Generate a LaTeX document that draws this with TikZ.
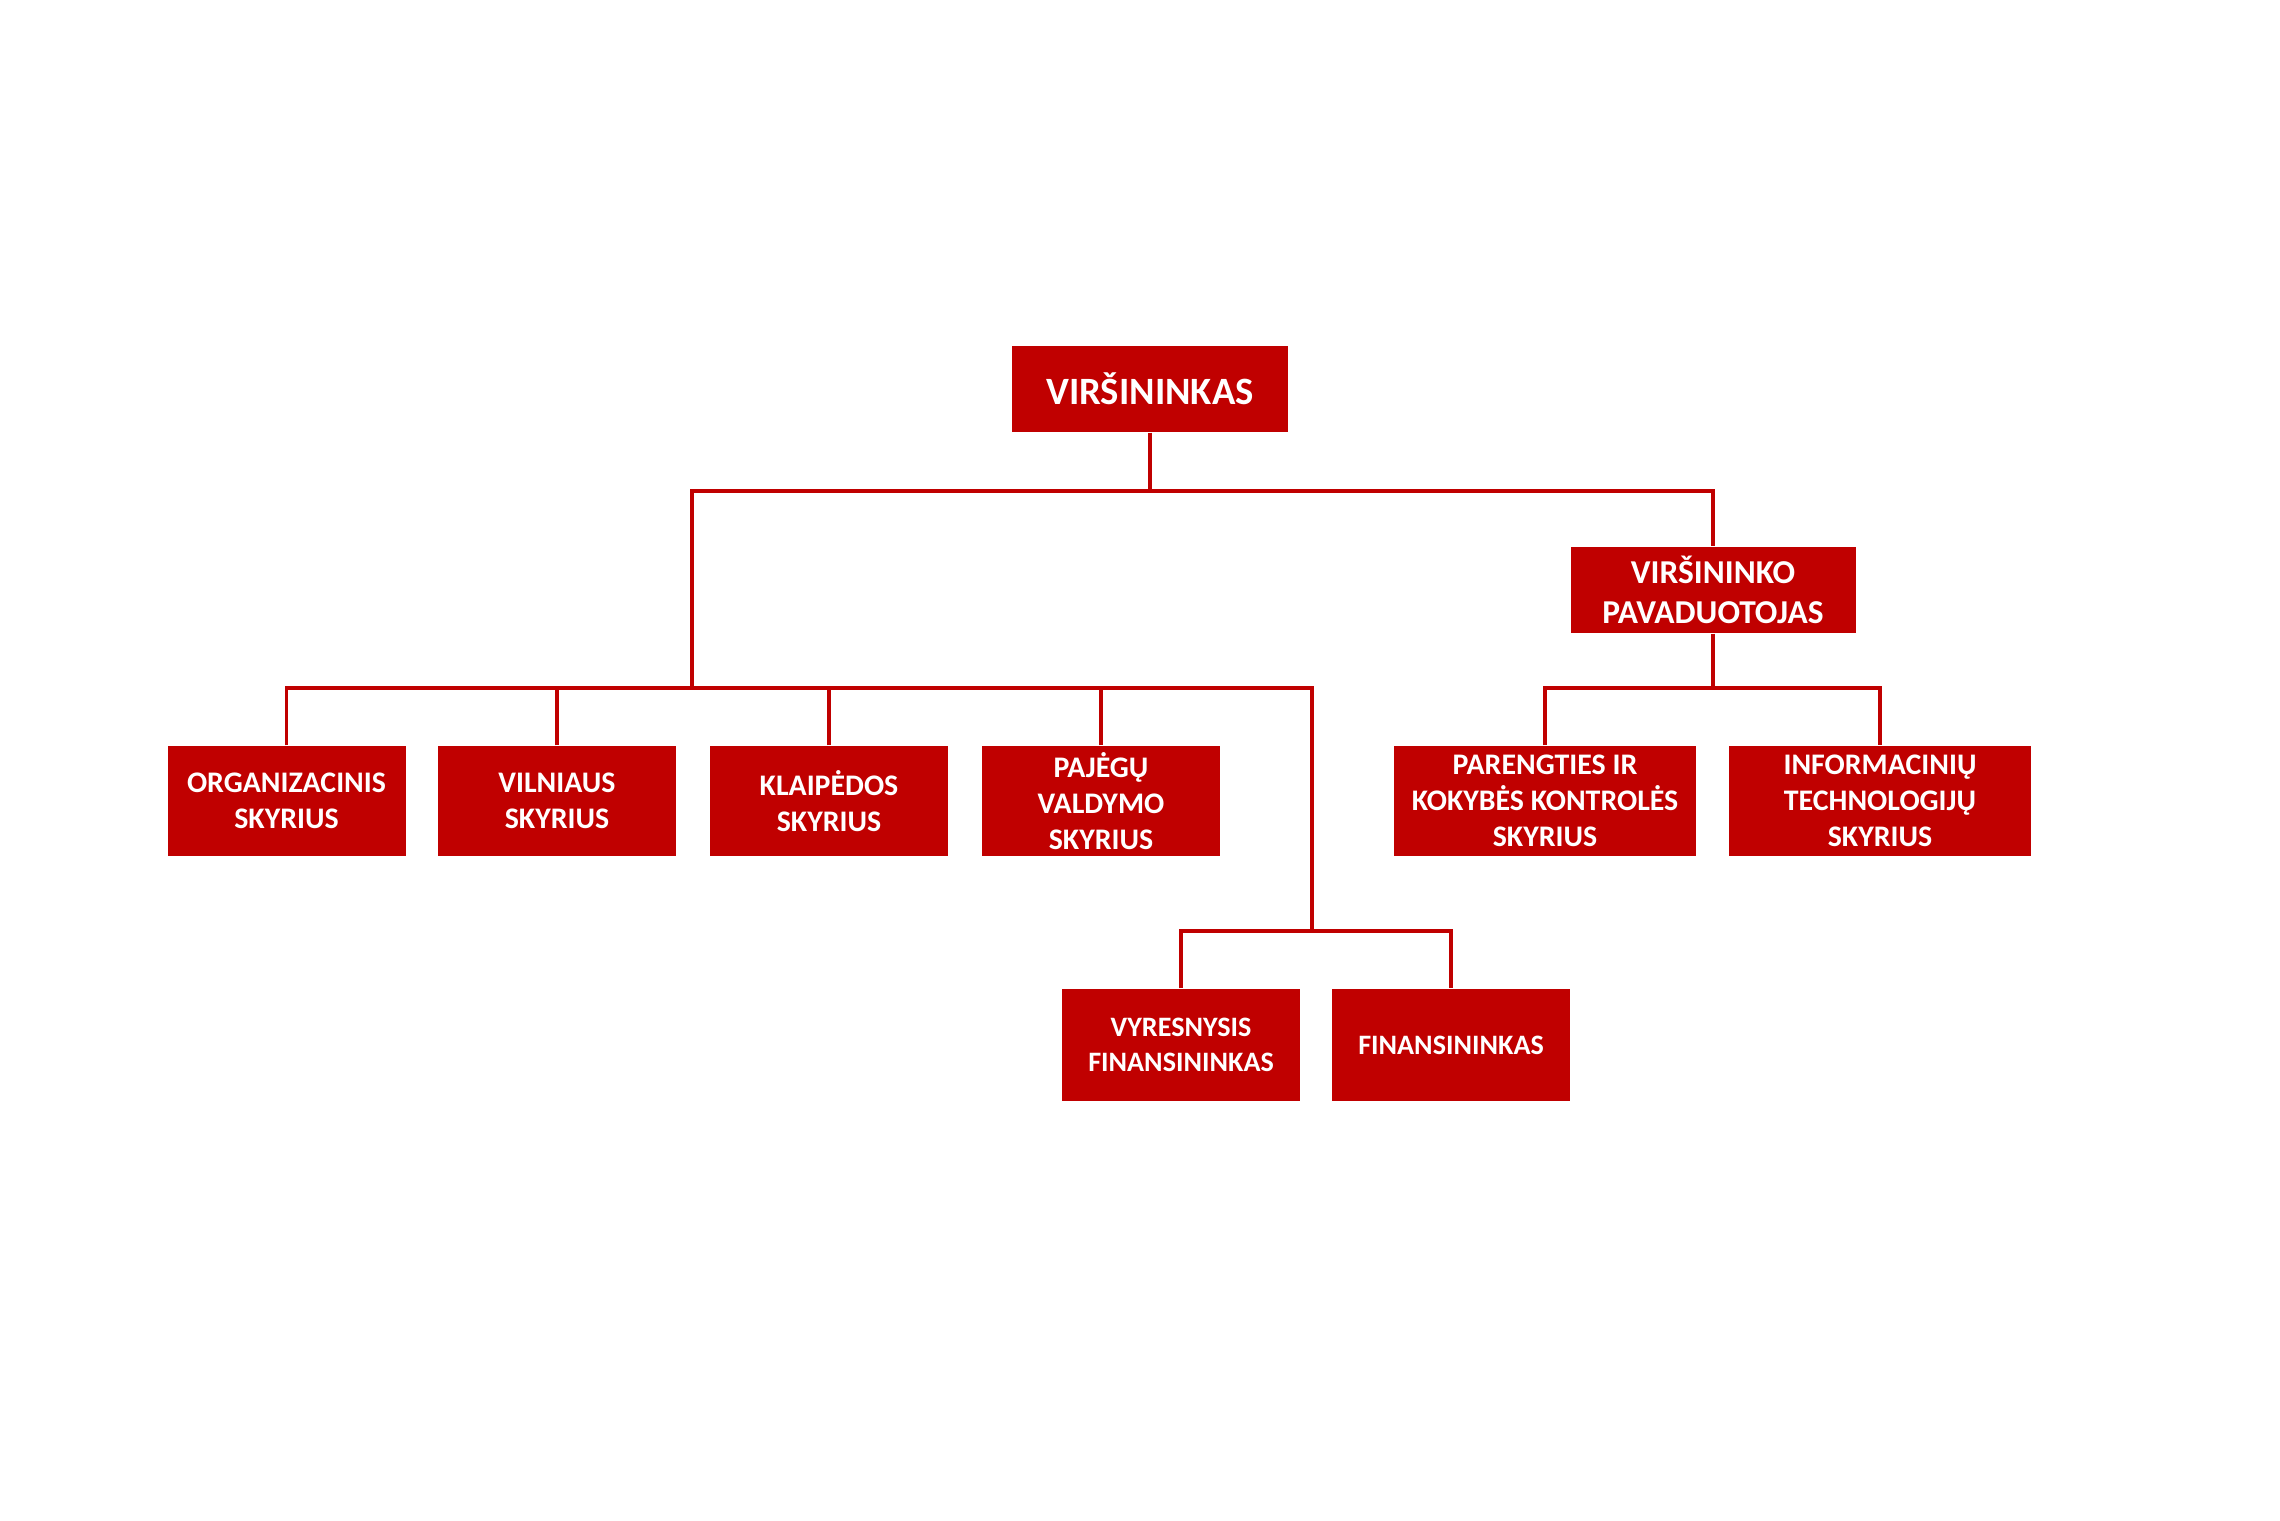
\documentclass[tikz,border=0pt]{standalone}
\usepackage{fontspec}
\setmainfont{Carlito}
\usepackage{xcolor}
\usepackage{tikz}
\usetikzlibrary{calc, positioning}

\definecolor{raudona}{RGB}{192, 0, 0}

\tikzset{
    dalis/.style={fill=raudona, text=white, align=center, inner sep=0pt,
        font=\bfseries\fontsize{8.5}{10.3}\selectfont,
        minimum width=2.38cm, minimum height=1.10cm},
    jungtis/.style={draw=raudona, line width=1.1pt}
}

\begin{document}
\begin{tikzpicture}
    % Rėmai (paveikslo dydis)
    \useasboundingbox (0,0) rectangle (22.8,15.2);

    % 1. Vadovybė
    \node[dalis, minimum width=2.76cm, minimum height=0.86cm,
        font=\bfseries\fontsize{11}{13}\selectfont] (virs) at (11.50,11.31) {VIRŠININKAS};
    \node[dalis, minimum width=2.85cm, minimum height=0.86cm,
        font=\bfseries\fontsize{9.5}{11.6}\selectfont] (pav) at (17.13,9.30) {VIRŠININKO\\PAVADUOTOJAS};

    % 2. Skyriai
    \node[dalis] (org) at (2.865,7.19) {ORGANIZACINIS\\SKYRIUS};
    \node[dalis] (vil) at (5.57,7.19) {VILNIAUS\\SKYRIUS};
    \node[dalis] (kla) at (8.29,7.19) {KLAIPĖDOS\\SKYRIUS};
    \node[dalis] (paj) at (11.01,7.19) {PAJĖGŲ\\VALDYMO\\SKYRIUS};
    \node[dalis, minimum width=3.02cm] (par) at (15.45,7.19) {PARENGTIES IR\\KOKYBĖS KONTROLĖS\\SKYRIUS};
    \node[dalis, minimum width=3.02cm] (inf) at (18.80,7.19) {INFORMACINIŲ\\TECHNOLOGIJŲ\\SKYRIUS};

    % 3. Finansininkai
    \node[dalis, minimum height=1.12cm, font=\bfseries\fontsize{8}{10}\selectfont] (vyr) at (11.81,4.75) {VYRESNYSIS\\FINANSININKAS};
    \node[dalis, minimum height=1.12cm, font=\bfseries\fontsize{8}{10}\selectfont] (fns) at (14.51,4.75) {FINANSININKAS};

    % 4. Jungtys
    \coordinate (j0) at (11.50,10.29);
    \coordinate (skyr) at (6.92,8.32);
    \coordinate (finv) at (13.12,8.32);
    \coordinate (fin) at (13.12,5.89);
    \coordinate (d0) at (17.13,8.32);

    \draw[jungtis] (virs.south) -- (j0);
    \draw[jungtis] (skyr) |- (j0) -| (pav.north);
    \draw[jungtis] (org.north) |- (finv) -- (fin);
    \foreach \n in {vil, kla, paj}
        \draw[jungtis] (\n.north) -- (\n.north |- skyr);
    \draw[jungtis] (vyr.north) |- (fin) -| (fns.north);
    \draw[jungtis] (pav.south) -- (d0);
    \draw[jungtis] (par.north) |- (d0) -| (inf.north);
\end{tikzpicture}
\end{document}
